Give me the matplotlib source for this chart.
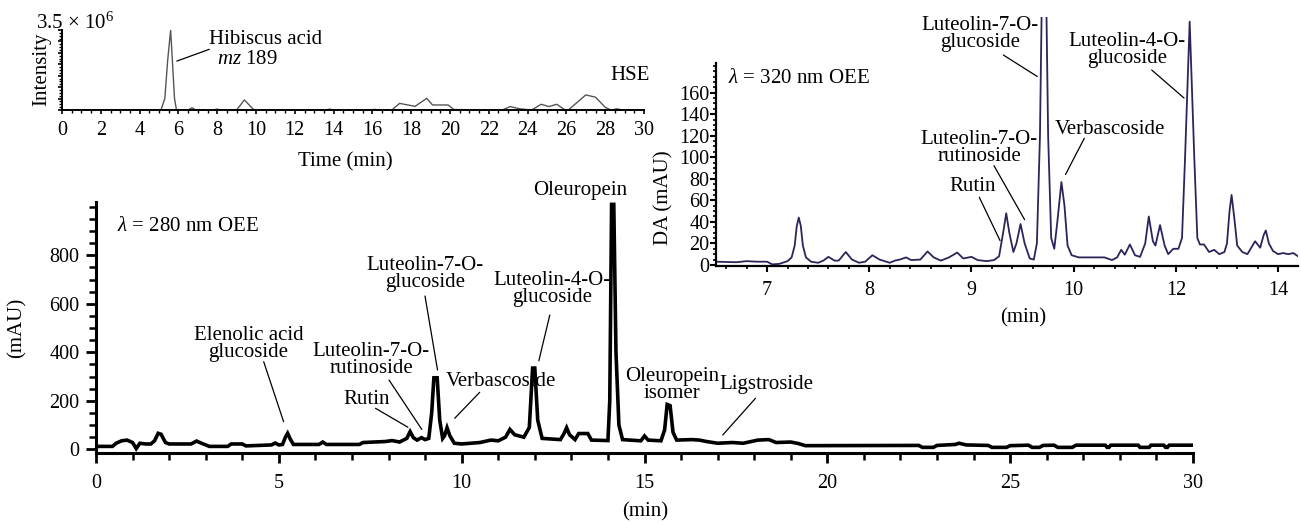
import numpy as np
import matplotlib
matplotlib.use("Agg")
import matplotlib.pyplot as plt
from matplotlib.ticker import MultipleLocator, FixedLocator, NullFormatter

plt.rcParams['font.family'] = ['Liberation Serif', 'DejaVu Serif']
plt.rcParams['mathtext.fontset'] = 'custom'
plt.rcParams['mathtext.rm'] = 'Liberation Serif'
plt.rcParams['mathtext.it'] = 'Liberation Serif:italic'

# ---- HSE (top left) : time (min), intensity (x 1e6)
hse_t = [0, 5.1, 5.3, 5.45, 5.6, 5.7, 5.8, 5.9, 6.5, 6.7, 6.9, 7.8, 8.0, 8.2, 9.0, 9.4, 9.9,
         13.6, 13.8, 14.0, 15.9, 16.1, 16.3, 17.0, 17.4, 18.2, 18.8, 19.1, 19.9, 20.2,
         22.7, 23.1, 23.6, 24.2, 24.7, 25.1, 25.5, 25.9, 26.1, 27.0, 27.5, 28.0, 28.3,
         28.6, 28.9, 30]
hse_i = [0, 0, 0.5, 2.2, 3.5, 2.0, 0.5, 0, 0, 0.1, 0, 0, 0.04, 0, 0, 0.44, 0,
         0, 0.04, 0, 0, 0.03, 0, 0, 0.29, 0.16, 0.51, 0.22, 0.22, 0.02,
         0, 0.15, 0.05, 0, 0.25, 0.15, 0.25, 0.02, 0, 0.66, 0.56, 0.12, 0,
         0.05, 0, 0]

# ---- OEE 320 nm (right inset)
dad_t = [6.5, 6.7, 6.8, 6.9, 7.0, 7.05, 7.12, 7.2, 7.24, 7.27, 7.29, 7.31, 7.33, 7.35, 7.38,
         7.43, 7.5, 7.55, 7.6, 7.66, 7.7, 7.77, 7.83, 7.9, 7.96, 8.03, 8.1, 8.2, 8.25, 8.3,
         8.36, 8.41, 8.5, 8.57, 8.63, 8.7, 8.78, 8.86, 8.92, 9.0, 9.06, 9.15, 9.22,
         9.27, 9.31, 9.34, 9.37, 9.41, 9.44, 9.48, 9.52, 9.57, 9.61, 9.64, 9.67, 9.69,
         9.73, 9.75, 9.78, 9.81, 9.84, 9.88, 9.91, 9.94, 9.98, 10.1, 10.6, 10.75, 10.85,
         10.93, 11.0, 11.1, 11.2, 11.3, 11.4, 11.47, 11.55, 11.6, 11.69, 11.78, 11.85,
         11.95, 12.05, 12.12, 12.18, 12.27, 12.36, 12.42, 12.47, 12.55, 12.65, 12.75,
         12.85, 12.95, 13.0, 13.05, 13.09, 13.14, 13.2, 13.3, 13.4, 13.5, 13.55, 13.65,
         13.72, 13.76, 13.82, 13.9, 14.0, 14.1, 14.2, 14.3, 14.39]
dad_v = [3, 2.5, 3.5, 3, 3, 0.5, 1, 3.5, 7, 18, 36, 44, 36, 18, 7,
         3, 2, 4, 7.5, 4, 4, 12, 5, 2, 3, 9, 5, 2, 4, 5,
         7, 4.5, 5, 12.5, 7, 4, 7, 11.5, 6, 7.5, 4.5, 3.5, 4.5,
         8, 30, 48, 30, 12, 20, 38, 20, 6, 5, 20, 120, 260,
         260, 120, 25, 15, 40, 77, 55, 18, 9, 7, 7, 4.5, 7,
         14, 9.5, 19, 9, 7.5, 20, 45, 22, 18, 37, 18, 10,
         15, 15, 25, 100, 226, 100, 25, 19, 19, 12, 14,
         10, 12, 20, 50, 65, 45, 18, 12, 10, 18, 22, 16,
         28, 32, 20, 13, 10, 11, 10, 11, 8]

# ---- OEE 280 nm (main)
uv_t = [0, 0.45, 0.55, 0.7, 0.85, 1.0, 1.1, 1.2, 1.35, 1.5, 1.6, 1.7, 1.78, 1.9, 2.0,
        2.6, 2.75, 2.9, 3.1, 3.6, 3.7, 4.0, 4.1, 4.8, 4.9, 5.0, 5.1, 5.18, 5.24, 5.32,
        5.4, 6.1, 6.2, 6.3, 7.2, 7.3, 7.9, 8.1, 8.3, 8.5, 8.59, 8.68, 8.78, 8.9, 9.0,
        9.1, 9.18, 9.24, 9.33, 9.4, 9.48, 9.53, 9.6, 9.68, 9.8, 10.0, 10.5, 10.8, 11.0,
        11.2, 11.32, 11.45, 11.7, 11.85, 11.94, 12.0, 12.08, 12.2, 12.7, 12.8, 12.87,
        12.95, 13.1, 13.2, 13.45, 13.55, 14.0, 14.05, 14.1, 14.16, 14.22, 14.3, 14.4,
        14.9, 15.0, 15.1, 15.45, 15.55, 15.62, 15.7, 15.78, 15.88, 16.3, 16.5, 16.7,
        17.0, 17.4, 17.7, 18.1, 18.4, 18.6, 19.0, 19.2, 19.4, 22.5, 22.6, 22.9, 23.0,
        23.5, 23.6, 23.8, 24.4, 24.5, 24.9, 25.0, 25.5, 25.6, 25.8, 25.9, 26.2, 26.3,
        26.7, 26.8, 27.6, 27.65, 27.7, 27.75, 28.5, 28.55, 28.8, 28.85, 29.2, 29.25,
        29.3, 29.35, 30]
uv_v = [12, 12, 25, 35, 38, 28, 3, 25, 22, 22, 35, 66, 62, 28, 22,
        22, 34, 24, 12, 12, 22, 22, 14, 18, 26, 18, 20, 50, 66, 40,
        20, 20, 30, 20, 20, 28, 32, 36, 30, 45, 73, 48, 38, 48, 40,
        45, 150, 295, 295, 120, 45, 55, 89, 55, 25, 22, 28, 38, 35,
        50, 82, 60, 50, 90, 335, 335, 120, 45, 40, 65, 89,
        60, 40, 65, 65, 38, 36, 200, 1010, 1010, 400, 100, 40,
        35, 55, 38, 35, 80, 185, 180, 70, 38, 40, 38, 32,
        25, 28, 25, 38, 40, 28, 30, 24, 15, 16, 8, 8, 16,
        20, 25, 18, 16, 8, 8, 15, 17, 8, 8, 16, 17, 8,
        8, 17, 17, 8, 8, 17, 17, 8, 8, 17, 17, 8,
        8, 17, 17]

W, H = 1301, 523
fig = plt.figure(figsize=(W / 100, H / 100), dpi=100)


def fx(px):
    return px / W


def fy(py):
    return 1 - py / H


def box(x0, y0, x1, y1):
    return [fx(x0), fy(y1), fx(x1) - fx(x0), fy(y0) - fy(y1)]


FS = 15
TFS = 14.5
LINE_KW = dict(arrowstyle='-', color='black', lw=0.9, shrinkA=0, shrinkB=0)


def label(ax, px, py, s, **kw):
    ax.text(fx(px), fy(py), s, transform=fig.transFigure, ha='center', va='center',
            fontsize=FS, zorder=1, linespacing=0.8, **kw)


def pointer(ax, xy, px, py):
    ax.annotate('', xy=xy, xycoords='data', xytext=(fx(px), fy(py)),
                textcoords='figure fraction', arrowprops=LINE_KW, zorder=1,
                annotation_clip=False)


# ================= main chromatogram (280 nm)
ax = fig.add_axes(box(96, 201.7, 1193, 452.7))
ax.patch.set_alpha(0)
ax.plot(uv_t, uv_v, color='black', lw=2.6, zorder=3, solid_joinstyle='miter')
ax.set_xlim(0, 30)
ax.set_ylim(-14, 1021)
for s in ['top', 'right']:
    ax.spines[s].set_visible(False)
for s in ['left', 'bottom']:
    ax.spines[s].set_linewidth(2.2)
ax.xaxis.set_major_locator(MultipleLocator(5))
ax.xaxis.set_minor_locator(MultipleLocator(1))
ax.yaxis.set_major_locator(FixedLocator([0, 200, 400, 600, 800]))
ax.yaxis.set_minor_locator(MultipleLocator(50))
ax.tick_params(which='major', length=7, width=2, labelsize=TFS, direction='out')
ax.tick_params(which='minor', length=5, width=1.8, direction='out')
ax.tick_params(axis='x', which='major', pad=8)
ax.tick_params(axis='y', which='major', pad=5)

label(ax, 16.7, 327.5, '(mAU)', rotation=90)
label(ax, 645, 512, '(min)')
ax.text(fx(117), fy(226.7), r'$\it{\lambda}$ = 280 nm OEE', transform=fig.transFigure,
        ha='left', va='center', fontsize=FS)

label(ax, 248.5, 344, 'Elenolic acid\nglucoside')
pointer(ax, (5.13, 114), 263.7, 361.7)
label(ax, 371, 360, 'Luteolin-7-O-\nrutinoside')
pointer(ax, (8.91, 82), 389, 380)
label(ax, 367, 399, 'Rutin')
pointer(ax, (8.53, 91), 375.5, 408.3)
label(ax, 425, 274, 'Luteolin-7-O-\nglucoside')
pointer(ax, (9.34, 327), 425, 296)
label(ax, 501, 381.7, 'Verbascoside')
pointer(ax, (9.81, 128), 479.7, 392.3)
label(ax, 552, 289, 'Luteolin-4-O-\nglucoside')
pointer(ax, (12.11, 365), 549.8, 315)
label(ax, 580, 190, 'Oleuropein')
label(ax, 672, 385, 'Oleuropein\nisomer')
label(ax, 766.5, 384, 'Ligstroside')
pointer(ax, (17.14, 59), 755.5, 398.3)

# ================= top-left HSE inset
ax1 = fig.add_axes(box(62, 30, 644, 110))
ax1.patch.set_alpha(0)
ax1.plot(hse_t, np.array(hse_i) * 1e6, color='#555555', lw=1.0)
ax1.set_xlim(0, 30)
ax1.set_ylim(0, 3.5e6)
for s in ['top', 'right']:
    ax1.spines[s].set_visible(False)
for s in ['left', 'bottom']:
    ax1.spines[s].set_linewidth(1.4)
ax1.xaxis.set_major_locator(MultipleLocator(2))
ax1.xaxis.set_minor_locator(MultipleLocator(0.5))
ax1.yaxis.set_major_locator(MultipleLocator(0.5e6))
ax1.yaxis.set_minor_locator(MultipleLocator(0.125e6))
ax1.yaxis.set_major_formatter(NullFormatter())
ax1.tick_params(which='major', length=3, width=1.2, labelsize=TFS, pad=5)
ax1.tick_params(which='minor', length=2, width=1.0)
label(ax1, 345, 161.7, 'Time (min)')
label(ax1, 42, 69, 'Intensity', rotation=90)
label(ax1, 75, 23, '3.5 × 10$^{6}$')
ax1.text(fx(209), fy(39.3), 'Hibiscus acid', transform=fig.transFigure,
         ha='left', va='center', fontsize=FS)
ax1.text(fx(217), fy(60), '$mz$ 189', transform=fig.transFigure,
         ha='left', va='center', fontsize=FS)
pointer(ax1, (5.92, 2.14e6), 209.3, 49.3)
label(ax1, 630, 75, 'HSE')


# ================= right inset (320 nm), compressed axis after 10 min
def fwd(t):
    t = np.asarray(t, dtype=float)
    return np.where(t <= 10, t, 10 + (t - 10) / 2)


def inv(u):
    u = np.asarray(u, dtype=float)
    return np.where(u <= 10, u, 10 + (u - 10) * 2)


ax2 = fig.add_axes(box(716, 17.3, 1298, 266))
ax2.patch.set_alpha(0)
ax2.set_xscale('function', functions=(fwd, inv))
ax2.plot(dad_t, dad_v, color='#2e2459', lw=1.3)
ax2.set_xlim(6.5, 14.39)
ax2.set_ylim(-1, 230)
for s in ['top', 'right']:
    ax2.spines[s].set_visible(False)
for s in ['left', 'bottom']:
    ax2.spines[s].set_linewidth(1.6)
ax2.spines['left'].set_bounds(-1, 188)
ax2.xaxis.set_major_locator(FixedLocator([7, 8, 9, 10, 12, 14]))
ax2.xaxis.set_minor_locator(FixedLocator(inv(np.arange(6.6, 12.2, 0.2))))
ax2.yaxis.set_major_locator(FixedLocator(np.arange(0, 161, 20)))
ax2.yaxis.set_minor_locator(FixedLocator(np.arange(0, 188, 5)))
ax2.xaxis.set_major_formatter(matplotlib.ticker.FuncFormatter(lambda v, p: '%d' % round(v)))
ax2.xaxis.set_minor_formatter(NullFormatter())
ax2.tick_params(which='major', length=4, width=1.5, labelsize=TFS)
ax2.tick_params(which='minor', length=2.5, width=1.2)
ax2.tick_params(axis='x', which='major', pad=7)
ax2.tick_params(axis='y', which='major', pad=0.5)

label(ax2, 1023.5, 318.3, '(min)')
label(ax2, 664, 198, 'DA (mAU)', rotation=90)
ax2.text(fx(728.3), fy(78.3), r'$\it{\lambda}$ = 320 nm OEE', transform=fig.transFigure,
         ha='left', va='center', fontsize=FS)
label(ax2, 980, 34, 'Luteolin-7-O-\nglucoside')
pointer(ax2, (9.644, 175), 1003.3, 55)
label(ax2, 1127, 50, 'Luteolin-4-O-\nglucoside')
pointer(ax2, (12.16, 155), 1151.7, 70)
label(ax2, 1110, 129.3, 'Verbascoside')
pointer(ax2, (9.92, 84), 1084.3, 138.3)
label(ax2, 979, 148, 'Luteolin-7-O-\nrutinoside')
pointer(ax2, (9.52, 42), 994, 165.7)
label(ax2, 973, 186.7, 'Rutin')
pointer(ax2, (9.28, 22.5), 979.3, 197.3)

fig.savefig('out.png', dpi=100)
